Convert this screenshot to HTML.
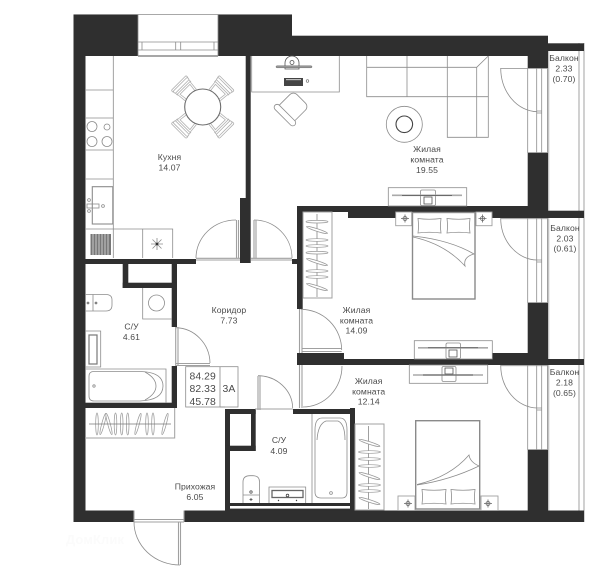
<!DOCTYPE html>
<html><head><meta charset="utf-8">
<style>
html,body{margin:0;padding:0;background:#fff;width:600px;height:566px;overflow:hidden}
svg{display:block}
text{font-family:"Liberation Sans",sans-serif;font-size:8.6px;fill:#4a4a4a;text-anchor:middle;letter-spacing:.1px}
.w{fill:#2f2f2f}
.l{fill:none;stroke:#8c8c8c;stroke-width:.8}
.m{fill:none;stroke:#a0a0a0;stroke-width:1.1}
.d{fill:none;stroke:#555;stroke-width:.8}
.b{fill:none;stroke:#8a8a8a;stroke-width:1.4}
</style></head><body>
<svg width="600" height="566" viewBox="0 0 600 566" xmlns="http://www.w3.org/2000/svg">
<defs>
<g id="hg"><ellipse cx="0" cy="0" rx="11" ry="1.3" fill="#fff" stroke="#9a9a9a" stroke-width=".7"/></g>
<g id="ch" fill="#fff" stroke="#b0b0b0" stroke-width=".8"><path d="M-8 -17L-9 -27H9L8 -17" fill="none"/><path d="M-6 -17L-7 -25H7L6 -17" fill="none"/><rect x="-10.500" y="-34" width="21" height="3" rx="1.200"/><rect x="-10" y="-32" width="20" height="3" rx="1.200"/><path d="M-9.500 -29V-26M9.500 -29V-26" fill="none"/></g>
<g id="ns" fill="none" stroke="#666" stroke-width=".8"><circle r="2"/><path d="M-4 0H4M0 -4V4"/></g>
</defs>

<!-- balconies -->
<g class="l">
<path d="M579 43V522M584 43V522"/>
</g>
<path d="M548.500 51V511" stroke="#c4c4c4" stroke-width="1.600" fill="none"/>

<!-- walls -->
<g class="w">
<rect x="73.500" y="14.500" width="12" height="507.500"/>
<rect x="73.500" y="14.500" width="64.500" height="41.500"/>
<rect x="218" y="14.500" width="74" height="41.500"/>
<rect x="292" y="35.700" width="256" height="20.300"/>
<rect x="548" y="43.300" width="36" height="7.700"/>
<rect x="527.700" y="56" width="20.300" height="12"/>
<rect x="527.700" y="153" width="20.300" height="65"/>
<rect x="548" y="210.700" width="36" height="7.300"/>
<rect x="297" y="206" width="231" height="6"/>
<rect x="348" y="206" width="180" height="12"/>
<rect x="297" y="206" width="5.700" height="103"/>
<rect x="527.700" y="303" width="20.300" height="62"/>
<rect x="297" y="353" width="47" height="12"/>
<rect x="297" y="359" width="287" height="6"/>
<rect x="492" y="353" width="36" height="12"/>
<rect x="527.700" y="450" width="20.300" height="61"/>
<rect x="73.500" y="510.500" width="60.500" height="11.500"/>
<rect x="184" y="510.500" width="400" height="11.500"/>
<rect x="245.700" y="56" width="5" height="142"/>
<rect x="240" y="198" width="10.700" height="65"/>
<rect x="85" y="259" width="111" height="5"/>
<rect x="292" y="259" width="10" height="5"/>
<rect x="171.700" y="259" width="5.300" height="68"/>
<rect x="171.700" y="366" width="5.300" height="42"/>
<rect x="85" y="402.700" width="92" height="5.300"/>
<rect x="122.700" y="259" width="5.600" height="29"/>
<rect x="122.700" y="282.700" width="54" height="5.300"/>
<rect x="225" y="409" width="5" height="102"/>
<rect x="225" y="409" width="30.700" height="5"/>
<rect x="251" y="409" width="4.700" height="42"/>
<rect x="225" y="445.700" width="30.700" height="5.300"/>
<rect x="293" y="409" width="62" height="5"/>
<rect x="350" y="408" width="5" height="103"/>
<rect x="230" y="503" width="120" height="3"/>
</g>
<rect x="230" y="506" width="120" height="2.600" fill="#fff"/>
<rect x="230" y="508.600" width="120" height="2" fill="#2f2f2f"/>

<!-- outer edges -->
<path d="M73.500 14.500H292M138 14.500V56M218 14.500V56" class="l"/>

<!-- kitchen window -->
<g class="l"><path d="M138 42H218M138 50H218M142 42V50M175.700 42V50M180.700 42V50M214 42V50"/></g>
<path d="M138 56H218" class="b"/>

<!-- kitchen -->
<g class="l">
<path d="M113.300 56V229M85 90H113.300M85 118H113.300M85 150H113.300M85 179H113.300"/>
<circle cx="92" cy="126.500" r="5"/><circle cx="107" cy="127" r="3"/><circle cx="92" cy="141.500" r="5"/><circle cx="107" cy="141.500" r="5"/>
<rect x="92.300" y="186.700" width="20.500" height="37.300" stroke-width="1.100"/>
<rect x="87" y="204" width="12" height="4"/>
<circle cx="89" cy="200" r="1.400"/><circle cx="89" cy="211" r="1.400"/><circle cx="103" cy="206" r="1.400"/>
<path d="M85 229H172.700V258M113.300 229V258M142.700 229V258"/>
<path d="M151 244H163M157 238V250M152.500 239.500L161.500 248.500M161.500 239.500L152.500 248.500"/>
</g>
<rect x="90.500" y="234" width="20.500" height="21" fill="#777"/>
<path d="M93 234V255M96 234V255M99 234V255M102 234V255M105 234V255M108 234V255" stroke="#ddd" stroke-width=".8"/>
<circle cx="157" cy="244" r="1.400" fill="#333"/>

<!-- dining -->
<g transform="translate(202.700 107)">
<use href="#ch" transform="rotate(45)"/><use href="#ch" transform="rotate(135)"/><use href="#ch" transform="rotate(225)"/><use href="#ch" transform="rotate(315)"/>
<circle r="18" fill="#fff" stroke="#6e6e6e" stroke-width="1.100"/>
</g>

<!-- doors -->
<g class="l">
<path d="M236 220A40 38 0 0 0 196 258"/>
<path d="M254 220A38 38 0 0 1 292 258"/>
<path d="M175.700 327.700A35 36 0 0 1 210 363"/>
<path d="M258 375.700A35 33 0 0 1 292.700 408"/>
<path d="M134 522A46 43 0 0 0 180 565"/>
<path d="M300.700 309.300A41 41 0 0 1 341.700 350"/>
<path d="M303 407A39 41 0 0 0 342 366"/>
<path d="M500.700 68A37 44 0 0 0 537 111.700"/>
<path d="M500.700 218A37 42 0 0 0 537 260"/>
<path d="M500.700 365A37 43 0 0 0 537 408"/>
</g>
<g class="m">
<path d="M236.500 220V258M238.500 220V258M254 220V258M256 220V258"/>
<path d="M196 258.300H240M196 260H240M251 258.300H292M251 260H292"/>
<path d="M176 363.500H210M176 365.500H210M175.700 327V366M178 327V366"/>
<path d="M258 376V410M260 376V410M255 409H293"/>
<path d="M134 519.500H184M134 522H184M134 510.500V522M184 510.500V522M178.500 522V565M180.500 522V565"/>
<path d="M299.500 309V353M302 309V353M302 348.500H341.700M302 351.500H341.700M299.500 365V408M302 365V408"/>
</g>

<!-- summary table -->
<g class="l" stroke="#999">
<rect x="185.700" y="366.700" width="52.300" height="40.300" fill="#fff"/>
<path d="M220 366.700V407M220 407H225"/>
</g>
<text x="202.700" y="379.500" style="font-size:10.400px">84.29</text>
<text x="202.700" y="392" style="font-size:10.400px">82.33</text>
<text x="202.700" y="405" style="font-size:10.400px">45.78</text>
<text x="229" y="392" style="font-size:10.400px">3А</text>

<!-- living windows -->
<g class="l">
<path d="M527.700 68V153M536.700 68V153M541.700 68V153M547.500 68V153M500.700 68.500H547.500M536.700 111H541.700M536.700 113H541.700M527.700 152.500H547.500"/>
<path d="M527.700 218V303M536.700 218V303M541.700 218V303M547.500 218V303M500.700 218.700H547.500M536.700 260H541.700M536.700 262H541.700M527.700 302.500H547.500"/>
<path d="M527.700 365V450M536.700 365V450M541.700 365V450M547.500 365V450M500.700 365.700H547.500M536.700 408H541.700M536.700 410H541.700M527.700 449.500H547.500"/>
</g>

<!-- desk -->
<g class="l">
<path d="M251.700 56V92H339.300V56"/>
<path d="M285 63A7 7 0 0 1 299 63V69H285Z" fill="#fff" stroke="#555"/>
<circle cx="292" cy="62.500" r="2" stroke="#555"/>
</g>
<rect x="276" y="65.800" width="36" height="2" rx="1" fill="#999" stroke="#555" stroke-width=".4"/>
<rect x="284" y="78" width="19" height="8" fill="#444"/>
<rect x="286" y="79" width="15" height="1.200" fill="#bbb"/>
<circle cx="307.500" cy="81" r="1.300" fill="none" stroke="#666" stroke-width=".6"/>
<g transform="translate(292 108) rotate(45)" class="l" stroke="#777">
<rect x="-11" y="-13" width="22" height="24" rx="5" fill="#fff"/>
<rect x="-14" y="7" width="28" height="6" rx="3" fill="#fff"/>
</g>

<!-- sofa -->
<g class="l" stroke="#777">
<path d="M366.700 56V96.700H447.300V137.300H488.300V56M366.700 67.300H476.700V137.300M407 56V96.700M447.300 56V96.700M447.300 96.700H488.300M476.700 67.300L488.300 56"/>
<circle cx="404.300" cy="124.300" r="18"/>
</g>
<circle cx="404.300" cy="124.300" r="8.300" fill="none" stroke="#444" stroke-width="1.100"/>

<!-- TVs -->
<g class="l">
<rect x="388.300" y="187.700" width="78.400" height="18.300"/>
<rect x="420.500" y="190" width="15" height="15.500" rx="1.500"/>
<rect x="424" y="197" width="8" height="7" stroke="#555"/>
<rect x="414.300" y="340.700" width="78" height="18.300"/>
<rect x="446" y="343" width="14.500" height="15.500" rx="1.500"/>
<rect x="449" y="350" width="8" height="7" stroke="#555"/>
<rect x="409.300" y="365" width="78.400" height="18.300"/>
<rect x="442" y="366.500" width="14" height="15" rx="1.500"/>
<rect x="445" y="368" width="8" height="6" stroke="#555"/>
</g>
<g fill="none">
<path d="M392 195.300H462M418 347.800H488M413 375H483" stroke="#aaa" stroke-width="1.600"/>
<path d="M402 195.300H452M428 347.800H478M423 375H473" stroke="#444" stroke-width=".7"/>
</g>

<!-- bedroom 1 -->
<rect x="303" y="212" width="29" height="86" fill="#fff" stroke="#a0a0a0" stroke-width="1"/>
<path d="M317 214V297" stroke="#777" stroke-width=".7"/>
<use href="#hg" transform="translate(317 221.700)"/>
<use href="#hg" transform="translate(317 230) rotate(18)"/>
<use href="#hg" transform="translate(317 240)"/>
<use href="#hg" transform="translate(317 246)"/>
<use href="#hg" transform="translate(317 252.700)"/>
<use href="#hg" transform="translate(317 262) rotate(18)"/>
<use href="#hg" transform="translate(317 271)"/>
<use href="#hg" transform="translate(317 277)"/>
<use href="#hg" transform="translate(317 287) rotate(18)"/>
<g fill="#fff" stroke="#a0a0a0" stroke-width=".9">
<rect x="395.700" y="212" width="16" height="13.700"/>
<rect x="476" y="212" width="16" height="13.700"/>
</g>
<use href="#ns" transform="translate(405 218.500)"/><use href="#ns" transform="translate(482.500 218.500)"/>
<rect x="412.500" y="212.500" width="62.500" height="86.500" fill="#fff" stroke="#8a8a8a" stroke-width="1.400"/>
<g class="l" stroke="#666">
<path d="M418 218.500Q429 220 441 218.500Q440 226 441 233Q429 231.500 418 233Q419 226 418 218.500Z"/>
<path d="M447 218.500Q459 220 470 218.500Q469 226 470 233Q459 231.500 447 233Q448 226 447 218.500Z"/>
<path d="M413 236Q450 240 474 254Q463 257 465 266Q445 244 413 237"/>
</g>

<!-- bedroom 2 -->
<rect x="355" y="424" width="29" height="86" fill="#fff" stroke="#a0a0a0" stroke-width="1"/>
<path d="M368.500 426V509" stroke="#777" stroke-width=".7"/>
<use href="#hg" transform="translate(369.500 443) rotate(18)"/>
<use href="#hg" transform="translate(369.500 452)"/>
<use href="#hg" transform="translate(369.500 459)"/>
<use href="#hg" transform="translate(369.500 466)"/>
<use href="#hg" transform="translate(369.500 476) rotate(18)"/>
<use href="#hg" transform="translate(369.500 485)"/>
<use href="#hg" transform="translate(369.500 491)"/>
<use href="#hg" transform="translate(369.500 501) rotate(18)"/>
<g fill="#fff" stroke="#a0a0a0" stroke-width=".9">
<rect x="398" y="496" width="17" height="14.500"/>
<rect x="481" y="496" width="17" height="14.500"/>
</g>
<use href="#ns" transform="translate(408 503.500)"/><use href="#ns" transform="translate(488 503.500)"/>
<rect x="415.700" y="420.700" width="64" height="88.300" fill="#fff" stroke="#8a8a8a" stroke-width="1.400"/>
<g class="l" stroke="#666">
<path d="M422 489.500Q434 491 446 489.500Q445 497 446 504Q434 502.500 422 504Q423 497 422 489.500Z"/>
<path d="M451 489.500Q463 491 475 489.500Q474 497 475 504Q463 502.500 451 504Q452 497 451 489.500Z"/>
<path d="M417 484.500Q450 477 469 455Q470 462 479 466Q450 480 417 485"/>
</g>

<!-- bath 1 -->
<g class="l">
<path d="M142.700 288V319H172"/>
<circle cx="156.500" cy="303" r="8"/>
<path d="M85 294.500H106Q112 294.500 112 300V305Q112 311 106 311H85M93 294.500V311"/>
<circle cx="88" cy="303" r="1" fill="#666"/><circle cx="96" cy="303" r="1" fill="#666"/>
<path d="M85 331H100.700V367H85"/>
<rect x="89" y="335" width="8" height="29" stroke-width="1.200" stroke="#777"/>
<path d="M85 369H166V403"/>
<path d="M94 371.500H140Q163 372 163 386Q163 400 140 401H94Q89 401 89 396V376Q89 371.500 94 371.500Z"/>
<path d="M145 372Q156 378 156 386Q156 394 145 400"/>
<circle cx="94" cy="386" r="1.200"/>
</g>

<!-- hall wardrobe -->
<path d="M85 438H174.700V408" fill="none" stroke="#a0a0a0" stroke-width="1"/>
<g transform="translate(0 424)">
<use href="#hg" transform="translate(97 0) rotate(90)"/>
<use href="#hg" transform="translate(103 0) rotate(105)"/>
<use href="#hg" transform="translate(109 0) rotate(75)"/>
<use href="#hg" transform="translate(115.500 0) rotate(90)"/>
<use href="#hg" transform="translate(121.700 0) rotate(90)"/>
<use href="#hg" transform="translate(127.700 0) rotate(90)"/>
<use href="#hg" transform="translate(138 0) rotate(105)"/>
<use href="#hg" transform="translate(147 0) rotate(90)"/>
<use href="#hg" transform="translate(153 0) rotate(90)"/>
<use href="#hg" transform="translate(165 0) rotate(105)"/>
</g>
<path d="M89 424H171" stroke="#777" stroke-width=".7"/>

<!-- bath 2 -->
<g class="l">
<path d="M312 414V503"/>
<path d="M322 418H340Q347 418 347 430V492Q347 498 342 498H321Q315 498 315 492V430Q315 418 322 418Z"/>
<path d="M317 440Q318 424 326 421H338Q345 424 345 440"/>
<circle cx="331" cy="493" r="1.400"/>
<path d="M243 503V482Q243 475.700 250 475.700H253Q259.500 475.700 259.500 482V503M243 495H259.500"/>
<circle cx="251" cy="492" r="1.200" stroke="#555"/><path d="M249.500 499.500H252.500M251 498V501" stroke="#444"/>
<path d="M269 503V487H305.700V503"/>
<rect x="272" y="490.500" width="31" height="7" stroke="#666" stroke-width="1.300"/>
<circle cx="287.500" cy="495.500" r="1.300" stroke="#444"/>
</g>
<circle cx="278.500" cy="500.500" r=".7" fill="#444"/><circle cx="296.500" cy="500.500" r=".7" fill="#444"/>

<!-- labels -->
<text x="169.500" y="160">Кухня</text><text x="169.500" y="170.500">14.07</text>
<text x="427" y="152">Жилая</text><text x="427" y="162.500">комната</text><text x="427" y="173">19.55</text>
<text x="229" y="313">Коридор</text><text x="229" y="323.500">7.73</text>
<text x="131.500" y="329.500">С/У</text><text x="131.500" y="340">4.61</text>
<text x="356.500" y="313">Жилая</text><text x="356.500" y="323.500">комната</text><text x="356.500" y="333.500">14.09</text>
<text x="368.700" y="384">Жилая</text><text x="368.700" y="394.500">комната</text><text x="368.700" y="404.500">12.14</text>
<text x="279" y="443">С/У</text><text x="279" y="454">4.09</text>
<text x="195" y="489.500">Прихожая</text><text x="195" y="500">6.05</text>
<text x="564" y="61">Балкон</text><text x="564" y="71.500">2.33</text><text x="564" y="82">(0.70)</text>
<text x="565" y="231">Балкон</text><text x="565" y="241.500">2.03</text><text x="565" y="251.500">(0.61)</text>
<text x="564.500" y="375">Балкон</text><text x="564.500" y="385.500">2.18</text><text x="564.500" y="396">(0.65)</text>

<text x="95" y="544" style="font-size:13px;fill:#fbfbfb;font-weight:bold">ДомКлик</text>
</svg>
</body></html>
